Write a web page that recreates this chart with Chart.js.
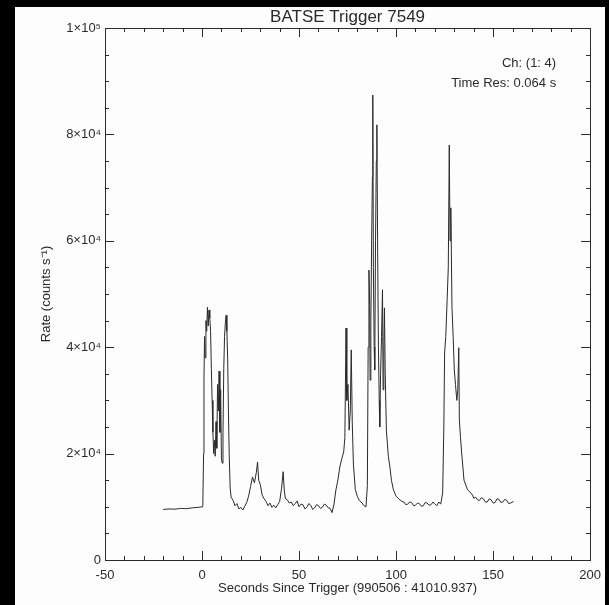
<!DOCTYPE html>
<html>
<head>
<meta charset="utf-8">
<script src="https://cdn.jsdelivr.net/npm/chart.js@4/dist/chart.umd.min.js"></script>
<style>
  html, body { margin: 0; padding: 0; background: #000; }
  canvas { display: block; }
</style>
</head>
<body>
<canvas id="burst" width="609" height="605"></canvas>
<script>
// light curve: seconds since trigger -> counts/s
const times = [
  -20, -17, -14, -11, -8, -5, -2, 0, 0.4,
  0.8, 1.0, 1.3, 1.6, 2.0, 2.4, 2.8, 3.2, 3.6, 4.0, 4.4, 4.8, 5.2, 5.6, 6.0,
  6.4, 6.8, 7.2, 7.6, 8.0, 8.4, 8.8, 9.2, 9.6, 10.0, 10.4, 10.8, 11.2, 11.6,
  12.0, 12.4, 12.8, 13.2, 13.6, 14.0, 14.5, 15, 16, 17, 18, 19, 20, 21, 22,
  23, 24, 25, 26, 27, 28, 28.6, 29.2, 30, 31, 32, 33, 34, 35, 36, 37, 38, 39,
  40, 41, 41.8, 42.4, 43, 44, 45, 46, 47, 48, 49, 50, 51, 52, 53, 54, 55, 56,
  57, 58, 59, 60, 61, 62, 63, 64, 65,
  66, 67, 68, 69, 70, 71, 72, 73, 73.6, 74.2, 74.6, 75.2, 75.8, 76.4, 76.9,
  77.4, 78, 79, 80, 81, 82.5, 83.5, 84.5, 85.2, 85.6, 86.0, 86.4, 86.6, 87.0,
  87.4, 87.8, 88.0, 88.3, 88.7, 89.0, 89.4, 89.8, 90.1, 90.5, 90.9, 91.3,
  91.6, 92.0, 92.5, 93.0, 93.3, 93.7, 94.0, 94.4, 95, 96, 96.8, 97.6, 98.6,
  100, 101, 102, 103, 104, 105, 106, 107, 108, 109, 110, 111, 112, 113, 114,
  115, 116, 117, 118, 119, 120, 121, 122, 123, 124,
  124.6, 125.0, 125.6, 126.3, 126.9, 127.4, 127.8, 128.2, 128.8, 129.4, 130.0,
  130.6, 131.3, 131.8, 132.3, 132.6, 133.2, 133.8, 135, 136, 136.8, 138,
  139.4, 140, 141, 142, 143, 144, 145, 146, 147, 148, 149, 150, 151, 152, 153,
  154, 155, 156, 157, 158, 159, 160.5
];
const rates = [
  9500, 9600, 9550, 9700, 9650, 9800, 9900, 10000, 10200,
  20000, 34000, 42000, 38000, 45000, 43000, 47500, 44000, 47000, 45500, 43000, 36000, 30000, 24000, 20000,
  22500, 19500, 26000, 21000, 33000, 28000, 35500, 24000, 32000, 19000, 18200, 24000, 36000, 42000,
  44500, 46000, 43000, 38000, 28000, 20000, 13500, 11800, 11200, 10200, 10600, 9600, 9900, 9400, 10100,
  10800, 12000, 13800, 15600, 14500, 16500, 18400, 15000, 14200, 12200, 11500, 11000, 10200, 10700, 9900, 10300, 9800, 10400,
  11000, 13500, 16600, 13000, 11500, 11300, 10700, 10900, 10200, 10600, 11100, 10000, 10500, 10400, 9600, 9900, 10600, 10300,
  9500, 9800, 10400, 10200, 9700, 9900, 10500, 10300, 9800,
  9700, 8900, 10500, 13200, 15000, 17500, 19000, 20300, 23000, 43600, 30000, 33000, 24400, 28000, 39500,
  26000, 18000, 13200, 12000, 11200, 10700, 10200, 10000, 14000, 40000, 54500, 48000, 33800, 45000,
  60000, 72000, 87400, 55000, 40000, 35700, 60000, 75000, 81800, 58000, 40000, 30000,
  25000, 35000, 42000, 50800, 32000, 40000, 47400, 35000, 24400, 19500, 17500, 15000, 13200,
  12000, 11600, 11300, 11000, 10900, 10400, 10500, 10900, 10800, 10200, 10300, 10700, 10600, 10100, 10200,
  10800, 10700, 10300, 10400, 10900, 10500, 10200, 10900, 10500, 12600,
  25000, 38900, 42000, 48900, 55000, 78000, 60000, 66200, 47600, 42000, 35700,
  33000, 30000, 32000, 39900, 26300, 23000, 20100, 15000, 14000, 13200, 12800,
  12200, 11600, 11800, 11300, 11200, 11700, 11500, 10900, 10900, 11500, 11300, 10700, 10800, 11500, 11400,
  10800, 10900, 11400, 11200, 10600, 10700, 11000
];
const xTicks = [-50, 0, 50, 100, 150, 200];
const yTicks = [0, 20000, 40000, 60000, 80000, 100000];
const chartTitle = 'BATSE Trigger 7549';
const notes = ['Ch: (1: 4)', 'Time Res: 0.064 s'];

const ink = '#2a2a2a';
const sup = { '0': '⁰', '1': '¹', '2': '²', '3': '³', '4': '⁴', '5': '⁵', '6': '⁶', '7': '⁷', '8': '⁸', '9': '⁹' };

function sciLabel(v) {
  if (v === 0) return '0';
  const e = Math.floor(Math.log10(v));
  const m = Math.round(v / Math.pow(10, e));
  return m + '×10' + String(e).split('').map(c => sup[c]).join('');
}

// black frame, white page, inward ticks, title and notes
const idlFrame = {
  id: 'idlFrame',
  beforeDraw(chart) {
    const ctx = chart.ctx;
    ctx.save();
    ctx.fillStyle = '#000';
    ctx.fillRect(0, 0, chart.width, chart.height);
    ctx.fillStyle = '#fdfdfd';
    ctx.fillRect(15, 7, 590, 598);
    ctx.restore();
  },
  afterDraw(chart) {
    const ctx = chart.ctx;
    const a = chart.chartArea;
    const xs = chart.scales.x, ys = chart.scales.y;
    ctx.save();
    ctx.strokeStyle = ink;
    ctx.lineWidth = 1;
    ctx.strokeRect(Math.round(a.left) + 0.5, Math.round(a.top) + 0.5,
      Math.round(a.right - a.left), Math.round(a.bottom - a.top));
    ctx.beginPath();
    for (let t = xs.min; t <= xs.max; t += 10) {
      const px = Math.round(xs.getPixelForValue(t)) + 0.5;
      const len = (t % 50 === 0) ? 9 : 4;
      ctx.moveTo(px, a.bottom); ctx.lineTo(px, a.bottom - len);
      ctx.moveTo(px, a.top); ctx.lineTo(px, a.top + len);
    }
    for (let v = ys.min; v <= ys.max; v += 5000) {
      const py = Math.round(ys.getPixelForValue(v)) + 0.5;
      const len = (v % 20000 === 0) ? 9 : 4;
      ctx.moveTo(a.left, py); ctx.lineTo(a.left + len, py);
      ctx.moveTo(a.right, py); ctx.lineTo(a.right - len, py);
    }
    ctx.stroke();

    ctx.fillStyle = ink;
    ctx.font = '17px "Liberation Sans", Arial, sans-serif';
    ctx.textAlign = 'center';
    ctx.textBaseline = 'middle';
    ctx.fillText(chartTitle, (a.left + a.right) / 2, 17);

    ctx.font = '13px "Liberation Sans", Arial, sans-serif';
    ctx.textAlign = 'right';
    ctx.fillText(notes[0], a.right - 34, 63);
    ctx.fillText(notes[1], a.right - 34, 83);
    ctx.restore();
  }
};

const ctx = document.getElementById('burst').getContext('2d');
const burstChart = new Chart(ctx, {
  type: 'line',
  data: {
    datasets: [{
      label: 'Rate',
      data: times.map((t, i) => ({ x: t, y: rates[i] })),
      borderColor: ink,
      borderWidth: 1,
      pointRadius: 0,
      tension: 0,
      fill: false
    }]
  },
  options: {
    responsive: false,
    animation: false,
    layout: { padding: { top: 28, right: 13, left: 0, bottom: 0 } },
    plugins: {
      legend: { display: false },
      tooltip: { enabled: false }
    },
    scales: {
      x: {
        type: 'linear',
        min: -50,
        max: 200,
        afterFit(scale) { scale.height = 45; },
        afterBuildTicks(scale) { scale.ticks = xTicks.map(v => ({ value: v })); },
        grid: { display: false, drawTicks: false },
        border: { display: false },
        ticks: {
          padding: 8,
          color: ink,
          maxRotation: 0,
          font: { family: '"Liberation Sans", Arial, sans-serif', size: 13 }
        },
        title: {
          display: true,
          text: 'Seconds Since Trigger (990506 : 41010.937)',
          color: ink,
          padding: { top: 0, bottom: 9 },
          font: { family: '"Liberation Sans", Arial, sans-serif', size: 13 }
        }
      },
      y: {
        min: 0,
        max: 100000,
        afterFit(scale) { scale.width = 105; },
        afterBuildTicks(scale) { scale.ticks = yTicks.map(v => ({ value: v })); },
        grid: { display: false, drawTicks: false },
        border: { display: false },
        ticks: {
          padding: 4,
          color: ink,
          font: { family: '"Liberation Sans", Arial, sans-serif', size: 13 },
          callback: v => sciLabel(v)
        },
        title: {
          display: true,
          text: 'Rate (counts s⁻¹)',
          color: ink,
          padding: { top: 39, bottom: 0 },
          font: { family: '"Liberation Sans", Arial, sans-serif', size: 13 }
        }
      }
    }
  },
  plugins: [idlFrame]
});
</script>
</body>
</html>
